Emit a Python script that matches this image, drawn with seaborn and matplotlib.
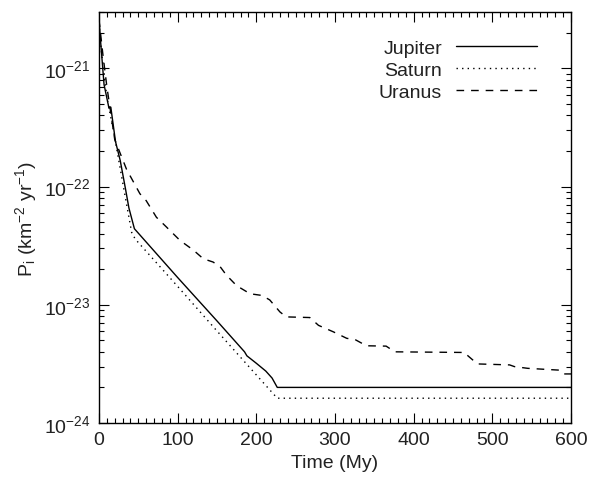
import numpy as np
import pandas as pd
import matplotlib
matplotlib.use("Agg")
import matplotlib.pyplot as plt
import seaborn as sns
from matplotlib.ticker import LogLocator, MultipleLocator, FixedLocator, NullFormatter

# ---- data ----
jup_t = [0, 2, 6.4, 12.7, 15, 21, 27, 34, 38, 45, 100, 150, 185, 188, 200, 212, 220, 226.6, 400, 600]
jup_p = [2.6e-21, 1.7e-21, 7.3e-22, 4.6e-22, 4.7e-22, 2.4e-22, 1.66e-22, 9.3e-23, 6.6e-23, 4.4e-23,
         1.70e-23, 7.3e-24, 4.0e-24, 3.7e-24, 3.2e-24, 2.75e-24, 2.4e-24, 2.0e-24, 2.0e-24, 2.0e-24]

sat_t = [0, 3, 10, 20, 31, 41.5, 46, 100, 150, 200, 226.6, 400, 600]
sat_p = [2.4e-21, 1.4e-21, 5.7e-22, 2.6e-22, 1.0e-22, 4.1e-23, 3.6e-23,
         1.43e-23, 6.0e-24, 2.55e-24, 1.62e-24, 1.62e-24, 1.62e-24]

ura_t = [0, 5, 10, 20, 35, 52, 60, 73, 85, 103, 120, 132.6, 145, 154, 162, 175, 192, 207, 217, 230,
         238, 268, 279, 298, 315, 325, 340, 365, 376, 465, 469, 481, 522, 528, 545, 585, 590, 600]
ura_p = [2.6e-21, 1.3e-21, 7.0e-22, 2.5e-22, 1.4e-22, 8.7e-23, 7.6e-23, 5.5e-23, 4.6e-23, 3.5e-23,
         2.9e-23, 2.45e-23, 2.3e-23, 2.1e-23, 1.78e-23, 1.45e-23, 1.24e-23, 1.2e-23, 1.1e-23, 8.7e-24,
         7.9e-24, 7.8e-24, 6.7e-24, 5.9e-24, 5.2e-24, 5.1e-24, 4.5e-24, 4.47e-24, 4.0e-24, 3.95e-24,
         3.7e-24, 3.16e-24, 3.1e-24, 3.0e-24, 2.9e-24, 2.8e-24, 2.6e-24, 2.6e-24]

series_names = ["Jupiter", "Saturn", "Uranus"]
x_ticks = [0, 100, 200, 300, 400, 500, 600]

# ---- style ----
sns.set_theme(style="ticks")
plt.rcParams["font.family"] = ["Liberation Sans", "DejaVu Sans"]
plt.rcParams["mathtext.fontset"] = "custom"
plt.rcParams["mathtext.rm"] = "Liberation Sans"
plt.rcParams["mathtext.it"] = "Liberation Sans:italic"
plt.rcParams["mathtext.default"] = "regular"
txt = "#222222"

fig = plt.figure(figsize=(5.9, 4.85), dpi=100)
ax = fig.add_axes([0.1678, 0.1258, 0.80, 0.8474])

df_j = pd.DataFrame({"t": jup_t, "p": jup_p})
df_s = pd.DataFrame({"t": sat_t, "p": sat_p})
df_u = pd.DataFrame({"t": ura_t, "p": ura_p})

sns.lineplot(data=df_j, x="t", y="p", ax=ax, color="black", lw=1.0, estimator=None,
             sort=False, label=series_names[0])
sns.lineplot(data=df_s, x="t", y="p", ax=ax, color="black", lw=1.0, estimator=None,
             sort=False, label=series_names[1])
sns.lineplot(data=df_u, x="t", y="p", ax=ax, color="black", lw=1.0, estimator=None,
             sort=False, label=series_names[2])
lines = ax.get_lines()
lines[1].set_dashes([1.0, 3.0])
lines[2].set_dashes([5.5, 5.0])

ax.set_yscale("log")
ax.set_xlim(0, 600)
ax.set_ylim(1e-24, 3e-21)

ax.xaxis.set_major_locator(FixedLocator(x_ticks))
ax.xaxis.set_minor_locator(MultipleLocator(10))
ax.yaxis.set_major_locator(LogLocator(base=10, numticks=10))
ax.yaxis.set_minor_locator(LogLocator(base=10, subs=np.arange(2, 10), numticks=10))
ax.yaxis.set_minor_formatter(NullFormatter())
ax.set_xticklabels([str(v) for v in x_ticks])
ax.set_yticks([1e-24, 1e-23, 1e-22, 1e-21])
ax.set_yticklabels(["10$^{-24}$", "10$^{-23}$", "10$^{-22}$", "10$^{-21}$"])

ax.tick_params(which="both", direction="in", top=True, right=True, color="black",
               labelsize=14, labelcolor=txt, width=0.8)
ax.tick_params(which="major", length=7, pad=6)
ax.tick_params(which="minor", length=3.5)
for s in ax.spines.values():
    s.set_color("black")
    s.set_linewidth(1.0)

ax.set_xlabel("Time (My)", fontsize=14, color=txt, labelpad=4)
ax.set_ylabel("P$_{\\rm i}$ (km$^{-2}$ yr$^{-1}$)", fontsize=14, color=txt, labelpad=4)

leg = ax.legend(loc="upper right", frameon=False, fontsize=14, markerfirst=False,
                handlelength=4.2, handletextpad=0.7, labelspacing=0.23,
                bbox_to_anchor=(0.945, 0.953), borderaxespad=0.0)
for t in leg.get_texts():
    t.set_color(txt)

fig.savefig("out.png", dpi=100)
